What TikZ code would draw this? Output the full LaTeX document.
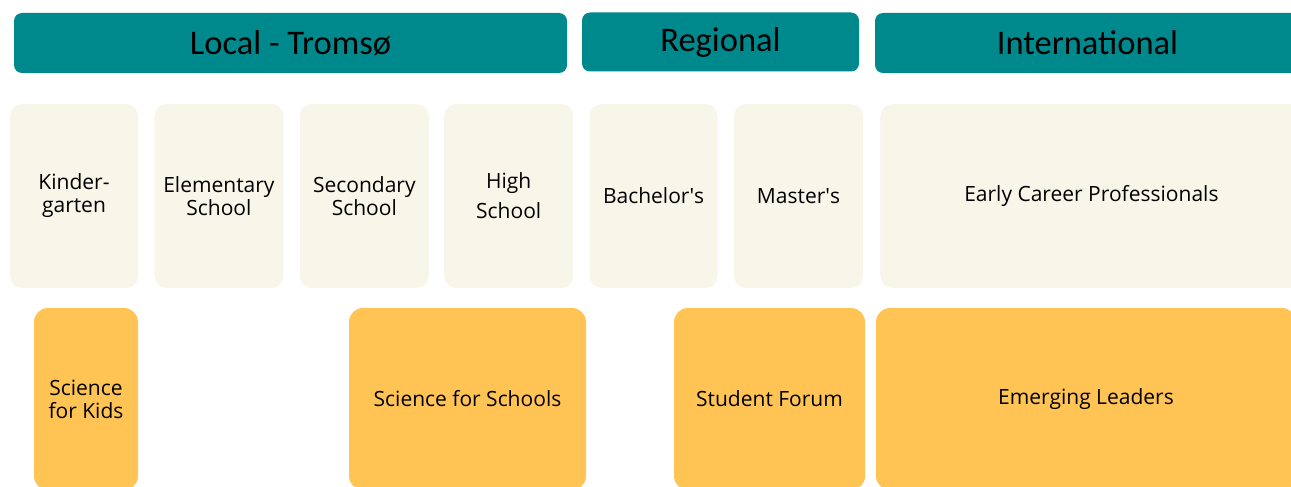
\documentclass[tikz,border=0pt]{standalone}
\usepackage{fontspec}
\setmainfont{Open Sans}
\newfontfamily\headfont{Carlito}
\usetikzlibrary{positioning}
\definecolor{tealbar}{RGB}{0,137,141}
\definecolor{cream}{RGB}{248,245,233}
\definecolor{sun}{RGB}{255,196,84}
\tikzstyle{region} = [fill=tealbar, rounded corners=8pt, inner sep=0pt, font=\headfont\fontsize{34.5}{38}\selectfont, minimum height=60pt]
\tikzstyle{level} = [fill=cream, rounded corners=12pt, inner sep=0pt, align=center, font=\fontsize{21}{23}\selectfont, minimum width=129pt, minimum height=184pt]
\tikzstyle{programme} = [fill=sun, rounded corners=14pt, inner sep=0pt, align=center, font=\fontsize{21}{23}\selectfont, minimum height=182pt]

\begin{document}
\begin{tikzpicture}[x=1pt, y=-1pt]
      \useasboundingbox (0,0) rectangle (1291,487);
      \clip (0,0) rectangle (1291,487);

      % geographic scope
      \node[region, minimum width=553pt] (local) at (290.5,43) {Local - Tromsø};
      \node[region, minimum width=277pt, minimum height=59pt] (regional) at (720.5,42) {Regional};
      \node[region, minimum width=425pt] (intl) at (1087.5,43) {International};

      % education levels
      \node[level, minimum width=128pt] (kinder) at (74,196) {Kinder-\\garten};
      \node[level, right=16pt of kinder] (elementary) {Elementary\\School};
      \node[level, right=16pt of elementary] (secondary) {Secondary\\School};
      \node[level, right=15pt of secondary, font=\fontsize{21}{30}\selectfont] (high) {High\\School};
      \node[level, right=16pt of high, minimum width=128pt] (bachelor) {Bachelor\textquotesingle s};
      \node[level, right=16pt of bachelor] (master) {Master\textquotesingle s};
      \node[level, right=17pt of master, minimum width=422pt] (career) {Early Career Professionals};

      % programmes
      \node[programme, minimum width=104pt] (kids) at (86,399) {Science\\for Kids};
      \node[programme, minimum width=237pt] (schools) at (467.5,399) {Science for Schools};
      \node[programme, minimum width=191pt] (forum) at (769.5,399) {Student Forum};
      \node[programme, minimum width=420pt] (leaders) at (1086,399) {Emerging Leaders};
\end{tikzpicture}
\end{document}
